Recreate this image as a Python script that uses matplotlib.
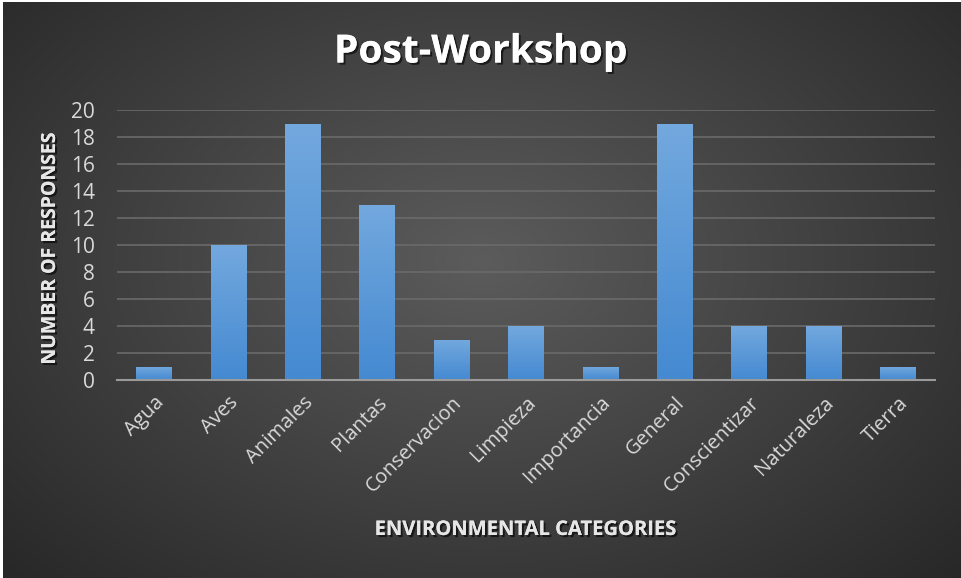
import numpy as np
import matplotlib.pyplot as plt
import matplotlib.patheffects as pe

categories = ["Agua", "Aves", "Animales", "Plantas", "Conservacion", "Limpieza",
              "Importancia", "General", "Conscientizar", "Naturaleza", "Tierra"]
responses = [1, 10, 19, 13, 3, 4, 1, 19, 4, 4, 1]
y_ticks = [0, 2, 4, 6, 8, 10, 12, 14, 16, 18, 20]

W, H = 961, 578
fig = plt.figure(figsize=(W / 100, H / 100), dpi=100, facecolor="white")

# dark radial gradient background (leaves a thin white frame left/top)
bg = fig.add_axes([3 / W, 0, (W - 3) / W, (H - 2) / H])
yy, xx = np.mgrid[0:1:300j, 0:1:500j]
r = np.sqrt(((xx - 0.5) / 0.75) ** 2 + ((yy - 0.45) / 0.85) ** 2)
shade = np.clip(0.36 - 0.22 * r, 0.15, 0.36)
bg.imshow(np.dstack([shade, shade, shade]), aspect="auto", extent=[0, 1, 0, 1],
          interpolation="bicubic")
bg.set_axis_off()

ax = fig.add_axes([117 / W, 1 - 380 / H, (935 - 117) / W, (380 - 110) / H])
ax.patch.set_alpha(0)
x = np.arange(len(categories))
bars = ax.bar(x, responses, width=0.48, color="#5b9bd5", zorder=3)

# vertical gradient inside each bar
grad = np.linspace(0, 1, 100).reshape(-1, 1)
top = np.array([0.45, 0.66, 0.87])
bot = np.array([0.27, 0.54, 0.82])
img = (bot + (top - bot) * grad[:, :, None]) * np.ones((100, 2, 3))
for b in bars:
    im = ax.imshow(img, extent=[b.get_x(), b.get_x() + b.get_width(), 0, max(b.get_height(), 0.01)],
                   origin="lower", aspect="auto", zorder=4)
    im.set_clip_path(b)

ax.set_xlim(-0.5, len(categories) - 0.5)
ax.set_ylim(0, 20)
ax.set_yticks(y_ticks)
ax.yaxis.grid(True, color="#6a6a6a", linewidth=1.2, zorder=0)
for s in ["top", "right", "left"]:
    ax.spines[s].set_visible(False)
ax.spines["bottom"].set_color("#9a9a9a")
ax.spines["bottom"].set_linewidth(1.5)
ax.spines["bottom"].set_zorder(5)
ax.tick_params(length=0)

font = "Open Sans"
ax.set_xticks(x)
ax.set_xticklabels(categories, rotation=45, ha="right", va="top", rotation_mode="anchor",
                   fontsize=14.5, color="#d9d9d9", family=font)
for t in ax.get_xticklabels():
    t.set_y(-0.03)
ax.set_yticklabels([str(v) for v in y_ticks], fontsize=15, color="#d9d9d9", family=font)
ax.tick_params(axis="y", pad=16)

shadow = [pe.withSimplePatchShadow(offset=(1.5, -1.5), shadow_rgbFace="black", alpha=0.6), pe.Normal()]
fig.text(0.5, 1 - 52 / H, "Post-Workshop", ha="center", va="center", fontsize=28,
         fontweight="bold", color="white", family=font, path_effects=shadow)
fig.text(50 / W, 1 - 248 / H, "NUMBER OF RESPONSES", rotation=90, ha="center", va="center",
         fontsize=14, fontweight="bold", color="#e6e6e6", family=font, path_effects=shadow)
fig.text(525 / W, 1 - 530 / H, "ENVIRONMENTAL CATEGORIES", ha="center", va="center",
         fontsize=14.5, fontweight="bold", color="#e6e6e6", family=font, path_effects=shadow)

fig.savefig("out.png", dpi=100, facecolor="white")
